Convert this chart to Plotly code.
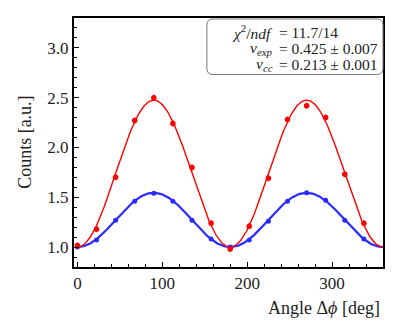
import numpy as np
import plotly.graph_objects as go

# --- data ------------------------------------------------------------------
angle_deg = [0, 22.5, 45, 67.5, 90, 112.5, 135, 157.5,
             180, 202.5, 225, 247.5, 270, 292.5, 315, 337.5]
counts_exp = [1.017, 1.18, 1.70, 2.27, 2.50, 2.24, 1.80, 1.24,
              0.98, 1.21, 1.69, 2.28, 2.42, 2.30, 1.73, 1.24]
err_exp = [0.03] * 16
counts_cc = [1.00, 1.07, 1.27, 1.46, 1.54, 1.46, 1.27, 1.08,
             1.00, 1.07, 1.26, 1.46, 1.545, 1.47, 1.27, 1.08]
err_cc = [0.008] * 16
# fit model: 1 + amp * sin^2(phi)
amp_exp = 1.475
amp_cc = 0.545

SERIF = "Liberation Serif, DejaVu Serif, serif"
RED, BLUE = "#ff0000", "#2a2aff"
INK = "#222"

phi = np.linspace(0, 360, 361)
fig = go.Figure()
fig.add_trace(go.Scatter(x=phi, y=1 + amp_cc * np.sin(np.radians(phi)) ** 2,
                         mode="lines", line=dict(color=BLUE, width=2.2),
                         hoverinfo="skip"))
fig.add_trace(go.Scatter(x=phi, y=1 + amp_exp * np.sin(np.radians(phi)) ** 2,
                         mode="lines", line=dict(color=RED, width=1.4),
                         hoverinfo="skip"))
fig.add_trace(go.Scatter(x=angle_deg, y=counts_cc, mode="markers",
                         marker=dict(color=BLUE, size=5),
                         error_y=dict(array=err_cc, color=BLUE, thickness=1.5, width=0)))
fig.add_trace(go.Scatter(x=angle_deg, y=counts_exp, mode="markers",
                         marker=dict(color=RED, size=5.5),
                         error_y=dict(array=err_exp, color=RED, thickness=1.5, width=0)))

axis_common = dict(showgrid=False, zeroline=False, showline=True, linecolor="black",
                   linewidth=2, mirror=True, ticks="inside", ticklen=5, tickwidth=1,
                   tickcolor="black", tickfont=dict(family=SERIF, size=17, color=INK))
fig.update_xaxes(range=[-4, 360], tickvals=[0, 100, 200, 300],
                 minor=dict(ticks="inside", ticklen=3, dtick=20, tick0=0, tickcolor="black"),
                 **axis_common)
fig.update_yaxes(range=[0.8, 3.3], tickvals=[1.0, 1.5, 2.0, 2.5, 3.0], tickformat=".1f",
                 minor=dict(ticks="inside", ticklen=3, dtick=0.1, tick0=0, tickcolor="black"),
                 **axis_common)

# stats box (rounded) in the top right
x0, x1, y0, y1, r = 0.430, 1.0, 0.773, 0.996, 0.02
ry = r * 309 / 251
fig.add_shape(type="path", xref="paper", yref="paper",
              path=(f"M {x0+r},{y1} L {x1-r},{y1} Q {x1},{y1} {x1},{y1-ry} "
                    f"L {x1},{y0+ry} Q {x1},{y0} {x1-r},{y0} L {x0+r},{y0} "
                    f"Q {x0},{y0} {x0},{y0+ry} L {x0},{y1-ry} Q {x0},{y1} {x0+r},{y1} Z"),
              line=dict(color="#777", width=1), fillcolor="rgba(255,255,255,0.85)")

lhs = ["<i>χ</i><sup>2</sup>/<i>ndf</i>", "<i>ν<sub>exp</sub></i>", "<i>ν<sub>cc</sub></i>"]
rhs = ["= 11.7/14", "= 0.425 ± 0.007", "= 0.213 ± 0.001"]
ys = [0.942, 0.878, 0.814]
for a, b, yv in zip(lhs, rhs, ys):
    fig.add_annotation(x=0.650, y=yv, xref="paper", yref="paper", text=a,
                       showarrow=False, xanchor="right", yanchor="middle",
                       font=dict(family=SERIF, size=15.5, color=INK))
    fig.add_annotation(x=0.658, y=yv, xref="paper", yref="paper", text=b,
                       showarrow=False, xanchor="left", yanchor="middle",
                       font=dict(family=SERIF, size=15.5, color=INK))

fig.add_annotation(x=0.997, y=-0.163, xref="paper", yref="paper",
                   text="Angle Δ<i>ϕ</i> [deg]",
                   showarrow=False, xanchor="right", yanchor="middle",
                   font=dict(family=SERIF, size=18, color=INK))
fig.add_annotation(x=-0.159, y=0.502, xref="paper", yref="paper", text="Counts [a.u.]",
                   showarrow=False, textangle=-90, xanchor="center", yanchor="middle",
                   font=dict(family=SERIF, size=18, color=INK))

# page body adds an 8px offset, so margins are shifted to land the axes where the reference has them
fig.update_layout(width=399, height=333, showlegend=False,
                  paper_bgcolor="white", plot_bgcolor="white",
                  margin=dict(l=66, r=24, t=8, b=74))

fig.write_html("out.html")
